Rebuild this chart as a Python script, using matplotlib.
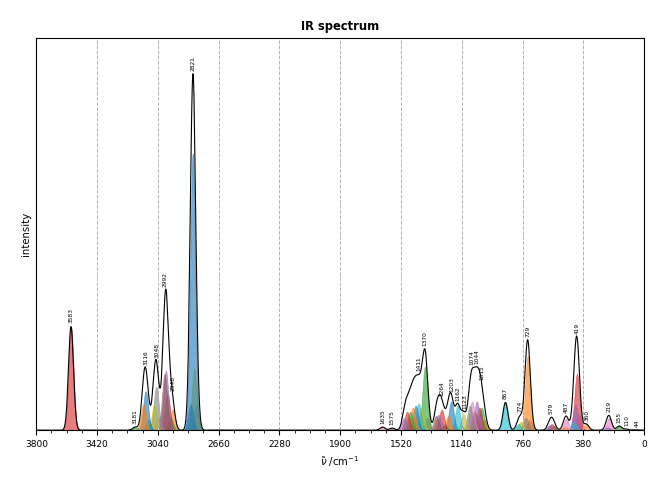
import numpy as np
import matplotlib
matplotlib.use("Agg")
import matplotlib.pyplot as plt
from matplotlib.ticker import MultipleLocator

# normal modes: wavenumber /cm-1 and relative IR intensity
mode_freqs = [44, 110, 155, 219, 230, 362, 410, 420, 430, 440,
              487, 495, 565, 578, 590, 715, 728, 740, 772, 785,
              867, 998, 1016, 1030, 1046, 1060, 1076, 1090, 1130, 1166,
              1206, 1225, 1248, 1266, 1285, 1300, 1355, 1370, 1392, 1410,
              1428, 1445, 1462, 1482, 1500, 1575, 1635, 2800, 2812, 2822,
              2835, 2948, 2960, 2980, 2990, 2998, 3035, 3050, 3062, 3100,
              3116, 3130, 3181, 3583]
mode_ints = [0.3, 1, 4, 12, 3, 6, 15, 55, 25, 8,
             11, 3, 4, 6, 5, 10, 72, 12, 8, 6,
             27, 10, 22, 22, 28, 18, 28, 24, 16, 24,
             28, 14, 5, 20, 15, 14, 12, 62, 22, 26,
             24, 22, 18, 18, 12, 2, 3, 25, 60, 270,
             25, 20, 12, 35, 58, 55, 12, 42, 25, 10,
             38, 25, 3, 101]

peak_labels = [3583, 3181, 3116, 3048, 2992, 2948, 2821, 1635, 1575, 1411,
               1370, 1264, 1203, 1162, 1123, 1074, 1044, 1015, 867, 774,
               729, 579, 487, 419, 360, 219, 155, 110, 44]

# colours of the prominent bands, everything else just cycles
band_colors = {3583: 'tab:red', 2822: 'tab:blue', 1370: 'tab:green', 728: 'tab:orange',
               867: 'tab:cyan', 420: 'tab:red', 430: 'tab:purple', 487: 'tab:pink',
               219: 'tab:pink', 362: 'tab:orange', 44: 'tab:brown'}

fwhm = 37.0
sigma = fwhm / (2 * np.sqrt(2 * np.log(2)))
x = np.linspace(0, 3800, 7601)


def band(f, a):
    return a * np.exp(-(x - f) ** 2 / (2 * sigma ** 2))


bands = [band(f, a) for f, a in zip(mode_freqs, mode_ints)]
total = np.sum(bands, axis=0)
ytop = 1.1 * total.max()

fig, ax = plt.subplots(figsize=(6.6, 4.95), dpi=100)
fig.subplots_adjust(left=0.055, right=0.976, bottom=0.131, top=0.923)

ax.plot(x, total, color='k', lw=0.8)
cyc = plt.rcParams['axes.prop_cycle'].by_key()['color']
for i, (f, b) in enumerate(zip(mode_freqs, bands)):
    c = band_colors.get(f, cyc[i % len(cyc)])
    ax.fill_between(x, b, color=c, alpha=0.6, lw=0.5)

for p in peak_labels:
    yv = np.interp(p, x, total)
    ax.text(p, yv + 0.008 * ytop, str(p), rotation=90, ha='center', va='bottom',
            fontsize=4.2)

ax.set_xlim(3800, 0)
ax.set_ylim(0, ytop)
ax.xaxis.set_major_locator(MultipleLocator(380))
ax.xaxis.set_minor_locator(MultipleLocator(95))
ax.xaxis.grid(True, which='major', ls='--', color='0.7', lw=0.7)
ax.set_yticks([])
ax.tick_params(axis='x', labelsize=6.5)
ax.set_xlabel(r'$\tilde{\nu}$ /cm$^{-1}$', fontsize=7.3)
ax.set_ylabel('intensity', fontsize=7.3)
ax.set_title('IR spectrum', fontsize=8.3, fontweight='bold')

fig.savefig('out.png', dpi=100)
